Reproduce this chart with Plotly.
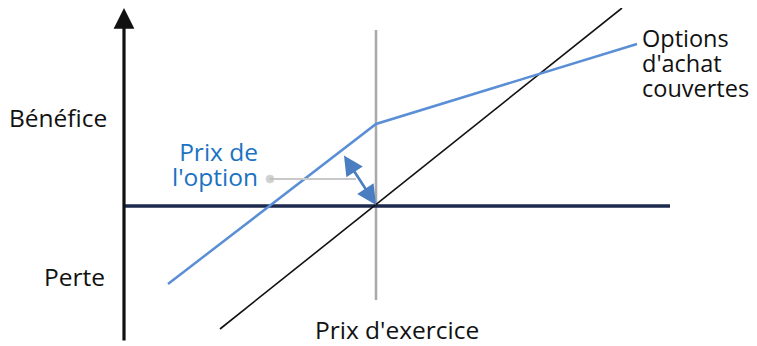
import plotly.graph_objects as go

# canvas units follow the picture: x to the right, y downwards
W, H = 757, 346
PAGE_MARGIN = 8  # default body margin of the html page

# covered call payoff (knee at the strike)
covered_x = [168, 376, 637]
covered_y = [284, 124, 44]

# stock held alone
stock_x = [220, 622]
stock_y = [329, 8]

# zero profit line and strike marker
zero_x = [125, 670]
zero_y = [206, 206]
strike_x = [376, 376]
strike_y = [30, 300]

# leader from the label to the premium arrow
leader_x = [270, 356]
leader_y = [179, 179]

# premium arrow ends, profit axis ends
premium_top = (343, 154)
premium_bottom = (376, 205)
axis_bottom = (124, 342)
axis_top = (124, 8)

FONT = "Open Sans, Calibri, sans-serif"
TEXT_PX = 24.5
LINE_BASE = 19  # line pitch = 1.3 * base size, tighter than the glyphs

fig = go.Figure()
fig.add_trace(go.Scatter(x=strike_x, y=strike_y, mode="lines",
                         line=dict(color="#a9a9a9", width=2.5)))
fig.add_trace(go.Scatter(x=zero_x, y=zero_y, mode="lines",
                         line=dict(color="#1c2a4e", width=3.5)))
fig.add_trace(go.Scatter(x=stock_x, y=stock_y, mode="lines",
                         line=dict(color="#111111", width=1.6)))
fig.add_trace(go.Scatter(x=covered_x, y=covered_y, mode="lines",
                         line=dict(color="#5a8fd6", width=2.5)))
fig.add_trace(go.Scatter(x=leader_x, y=leader_y, mode="lines+markers",
                         line=dict(color="#c8c8c8", width=2),
                         marker=dict(color="#bdbdbd", size=[8, 0])))

# vertical profit axis with its arrowhead
fig.add_annotation(x=axis_top[0], y=axis_top[1], ax=axis_bottom[0], ay=axis_bottom[1],
                   xref="x", yref="y", axref="x", ayref="y", text="",
                   showarrow=True, arrowhead=2, arrowsize=1.3, arrowwidth=3.2,
                   arrowcolor="#111111", standoff=0)
# option premium double arrow
fig.add_annotation(x=premium_bottom[0], y=premium_bottom[1],
                   ax=premium_top[0], ay=premium_top[1],
                   xref="x", yref="y", axref="x", ayref="y", text="",
                   showarrow=True, arrowhead=2, startarrowhead=2, arrowside="end+start",
                   arrowsize=1.5, startarrowsize=1.5, arrowwidth=2.6,
                   arrowcolor="#4a7ec0", standoff=0, startstandoff=0)

# single line labels
labels = [
    ("Bénéfice", 108, 117, "right", "#111111"),
    ("Perte", 106, 276, "right", "#111111"),
    ("Prix d'exercice", 397, 329, "center", "#111111"),
]
for text, x, y, anchor, color in labels:
    fig.add_annotation(x=x, y=y, xref="x", yref="y", text=text, showarrow=False,
                       xanchor=anchor, yanchor="middle", align=anchor, borderpad=0,
                       font=dict(family=FONT, size=TEXT_PX, color=color))

# multi line labels, glyphs enlarged inside a smaller base size for tight lines
blocks = [
    (["Prix de", "l'option"], 259, 164, "right", "#1a73c2", TEXT_PX, 95),
    (["Options", "d'achat", "couvertes"], 641, 63, "left", "#111111", 23.5, 112),
]
for parts, x, y, anchor, color, px, box_w in blocks:
    text = "<br>".join(f"<span style='font-size:{px}px'>{p}</span>" for p in parts)
    fig.add_annotation(x=x, y=y, xref="x", yref="y", text=text, showarrow=False,
                       xanchor=anchor, yanchor="middle", align=anchor,
                       width=box_w, height=80, borderpad=0,
                       font=dict(family=FONT, size=LINE_BASE, color=color))

fig.update_layout(
    width=W - PAGE_MARGIN, height=H - PAGE_MARGIN,
    margin=dict(l=0, r=0, t=0, b=0),
    paper_bgcolor="white", plot_bgcolor="white", showlegend=False,
    xaxis=dict(range=[PAGE_MARGIN, W], visible=False, fixedrange=True),
    yaxis=dict(range=[H, PAGE_MARGIN], visible=False, fixedrange=True),
)

fig.write_html("out.html")
